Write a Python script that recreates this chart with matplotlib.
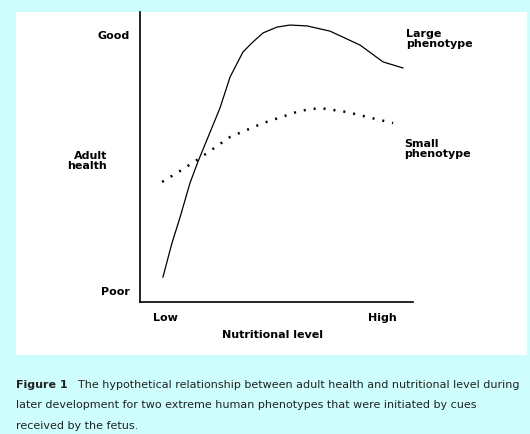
import matplotlib.pyplot as plt
from matplotlib.patches import Rectangle

# nutritional level (0 = low, 100 = high) vs adult health (0 = poor, 100 = good)
large_x = [8.4, 11.7, 14.7, 18.3, 21.2, 29.3, 33.0, 37.7, 41.4, 45.1, 50.2, 54.9, 61.2, 69.6, 80.6, 89.0, 96.3]
large_y = [8.6, 20.3, 29.3, 41.0, 48.3, 66.9, 77.6, 86.2, 89.7, 92.8, 94.8, 95.5, 95.2, 93.4, 88.6, 82.8, 80.7]
small_x = [8.1, 14.7, 20.9, 33.0, 45.1, 58.6, 65.9, 75.8, 83.2, 92.7]
small_y = [41.4, 45.2, 49.0, 56.9, 61.7, 65.9, 66.9, 65.5, 63.8, 61.7]

x_labels = ["Low", "High"]
y_labels = ["Poor", "Good"]
caption_bold = "Figure 1"
caption_lines = [
    "The hypothetical relationship between adult health and nutritional level during",
    "later development for two extreme human phenotypes that were initiated by cues",
    "received by the fetus.",
]

W, H = 530, 434
BG = "#cdfdfd"

fig = plt.figure(figsize=(W / 100, H / 100), dpi=100, facecolor=BG)


def fx(px):
    return px / W


def fy(py):
    return 1 - py / H


# white panel behind the chart
fig.patches.append(Rectangle((fx(16), fy(355)), fx(527) - fx(16), fy(12) - fy(355),
                             transform=fig.transFigure, facecolor="white",
                             edgecolor="none", zorder=-1))

ax = fig.add_axes([fx(140), fy(302), fx(413) - fx(140), fy(12) - fy(302)], zorder=1)
ax.set_facecolor("none")
ax.set_xlim(0, 100)
ax.set_ylim(0, 100)
for s in ["top", "right"]:
    ax.spines[s].set_visible(False)
for s in ["left", "bottom"]:
    ax.spines[s].set_linewidth(1.2)
ax.set_xticks([])
ax.set_yticks([])

ax.plot(large_x, large_y, color="black", linewidth=0.9, clip_on=False)
ax.plot(small_x, small_y, color="black", linewidth=1.8,
        linestyle=(0, (0.8, 3.2)), clip_on=False)

lab = dict(fontsize=8, fontweight="bold", color="black", family="DejaVu Sans")

fig.text(fx(130), fy(36), y_labels[1], ha="right", va="center", **lab)
fig.text(fx(130), fy(292), y_labels[0], ha="right", va="center", **lab)
fig.text(fx(107), fy(161), "Adult\nhealth", ha="right", va="center",
         linespacing=0.95, **lab)
fig.text(fx(165), fy(318), x_labels[0], ha="center", va="center", **lab)
fig.text(fx(382), fy(318), x_labels[1], ha="center", va="center", **lab)
fig.text(fx(272), fy(335), "Nutritional level", ha="center", va="center", **lab)
fig.text(fx(406), fy(39), "Large\nphenotype", ha="left", va="center",
         linespacing=0.95, **lab)
fig.text(fx(404), fy(149), "Small\nphenotype", ha="left", va="center",
         linespacing=0.95, **lab)

cap = dict(fontsize=8, color="#222222", family="DejaVu Sans", va="center", ha="left")
fig.text(fx(16), fy(385), caption_bold, fontweight="bold", **cap)
fig.text(fx(78), fy(385), caption_lines[0], **cap)
fig.text(fx(16), fy(405), caption_lines[1], **cap)
fig.text(fx(16), fy(426), caption_lines[2], **cap)

fig.savefig("out.png", dpi=100, facecolor=BG)
